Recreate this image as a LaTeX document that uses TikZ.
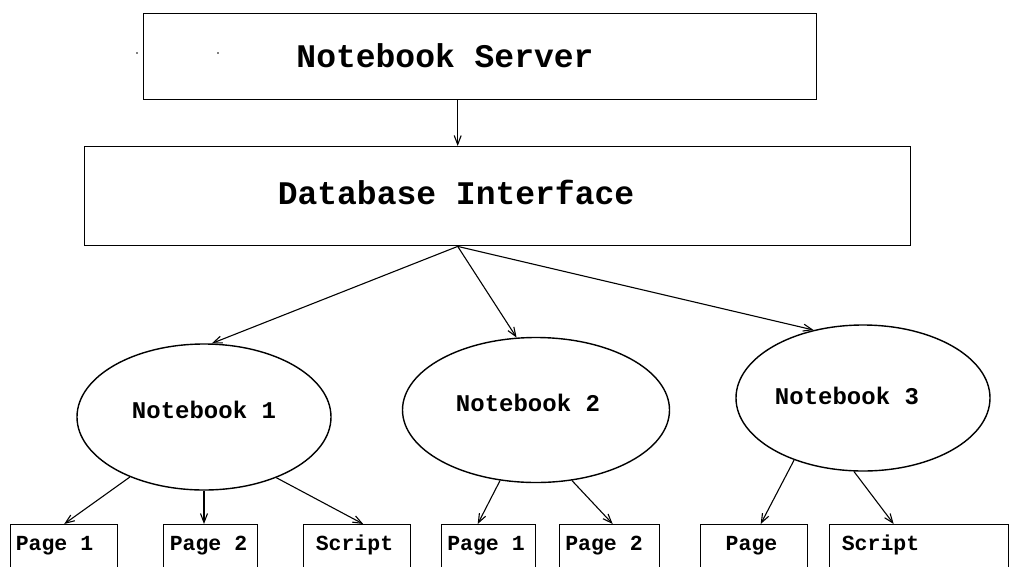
\documentclass[tikz,border=0pt]{standalone}
\usepackage{fontspec}
\setmonofont{Liberation Mono}
\usetikzlibrary{shapes.geometric,arrows.meta}

\begin{document}
\begin{tikzpicture}[x=1pt,y=-1pt,line width=1.4pt,
    box/.style={draw,rectangle,anchor=north west,inner sep=0pt},
    nbell/.style={draw,ellipse,inner sep=0pt},
    arr/.style={-{Straight Barb[length=9pt,width=7pt]},line width=1.1pt},
    bigtxt/.style={anchor=base,font=\ttfamily\bfseries\fontsize{33}{36}\selectfont},
    nbtxt/.style={anchor=base,font=\ttfamily\bfseries\fontsize{24}{27}\selectfont},
    pgtxt/.style={anchor=base,font=\ttfamily\bfseries\fontsize{21.5}{24}\selectfont}]
    \useasboundingbox (0,0) rectangle (1010,566);
    \clip (0,0) rectangle (1010,566);

    % server and database interface
    \node[box,minimum width=673pt,minimum height=86pt] (srv) at (143,13){};
    \node[bigtxt] (srvt) at (445,67){Notebook Server};
    \node[box,minimum width=826pt,minimum height=99pt] (db) at (84,146){};
    \node[bigtxt] (dbt) at (456,204){Database Interface};
    \fill (137,53) circle (0.8pt) (218,53) circle (0.8pt);

    \draw[arr] ([xshift=-22.5pt]srv.south) -- ([xshift=-40pt]db.north);
    \coordinate (fork) at ([xshift=-40pt]db.south);

    % notebooks
    \node[nbell,minimum width=254pt,minimum height=146pt] (nb1) at (204,417){};
    \node[nbtxt] (nb1t) at (204,418){Notebook 1};
    \node[nbell,minimum width=267pt,minimum height=145pt] (nb2) at (536,410){};
    \node[nbtxt] (nb2t) at (528,411){Notebook 2};
    \node[nbell,minimum width=254pt,minimum height=146pt] (nb3) at (863,398){};
    \node[nbtxt] (nb3t) at (847,404){Notebook 3};

    \draw[arr] (fork) -- (nb1.84);
    \draw[arr] (fork) -- (nb2.105.5);
    \draw[arr] (fork) -- (nb3.126);

    % pages and scripts
    \node[box,minimum width=107pt,minimum height=80pt] (p1a) at (10,524){};
    \node[pgtxt] (p1at) at (54.5,550){Page 1};
    \node[box,minimum width=94pt,minimum height=80pt] (p2a) at (163,524){};
    \node[pgtxt] (p2at) at (208.5,550){Page 2};
    \node[box,minimum width=107pt,minimum height=80pt] (sa) at (303,524){};
    \node[pgtxt] (sat) at (354.5,550){Script};
    \node[box,minimum width=94pt,minimum height=80pt] (p1b) at (441,524){};
    \node[pgtxt] (p1bt) at (486,550){Page 1};
    \node[box,minimum width=100pt,minimum height=80pt] (p2b) at (559,524){};
    \node[pgtxt] (p2bt) at (604,550){Page 2};
    \node[box,minimum width=107pt,minimum height=80pt] (pg) at (700,524){};
    \node[pgtxt] (pgt) at (751.5,550){Page};
    \node[box,minimum width=179pt,minimum height=80pt] (sb) at (829,524){};
    \node[pgtxt] (sbt) at (880.5,550){Script};

    \draw[arr] (nb1.219.5) -- (p1a.north);
    \draw[arr] (nb1.270) -- (p2a.north -| nb1.south);
    \draw[arr] (nb1.320.5) -- ([xshift=6pt]sa.north);
    \draw[arr] (nb2.243.7) -- ([xshift=-11pt]p1b.north);
    \draw[arr] (nb2.297.9) -- ([xshift=3pt]p2b.north);
    \draw[arr] (nb3.222.4) -- ([xshift=6.5pt]pg.north);
    \draw[arr] (nb3.263) -- ([xshift=-25.5pt]sb.north);
\end{tikzpicture}
\end{document}
